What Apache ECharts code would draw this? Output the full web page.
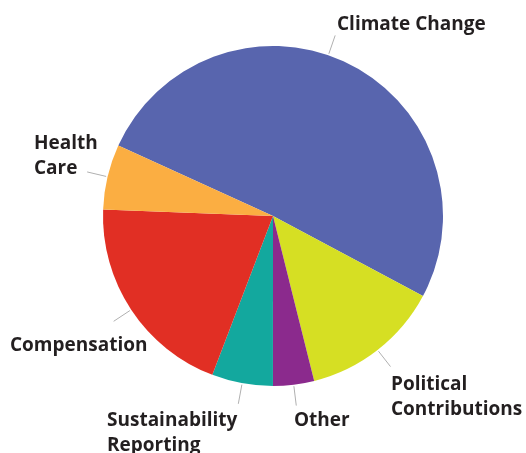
<!DOCTYPE html>
<html>
<head>
<meta charset="utf-8">
<script src="https://cdn.jsdelivr.net/npm/echarts@6/dist/echarts.min.js"></script>
<style>
html,body{margin:0;padding:0;background:#fff;}
#chart{width:526px;height:453px;}
</style>
</head>
<body>
<div id="chart"></div>
<script>
// ---- data ----
var categories = ['Climate Change', 'Political Contributions', 'Other', 'Sustainability Reporting', 'Compensation', 'Health Care'];
var shares = [51.0, 13.3, 3.9, 5.8, 19.8, 6.2];
var labelTexts = ['Climate Change', 'Political\nContributions', 'Other', 'Sustainability\nReporting', 'Compensation', 'Health\nCare'];
var colors = ['#5865ae', '#d6df23', '#8b2a8d', '#13a89e', '#e12f24', '#fbae42'];

// ---- layout (label placement only) ----
var CX = 273, CY = 216, R = 170;
var labelPos = [
  {x: 337, y: 12},
  {x: 391, y: 372},
  {x: 294, y: 408},
  {x: 107, y: 408},
  {x: 10,  y: 333},
  {x: 34,  y: 131}
];
var leaderAngleOverride = {0: 71};

var chart = echarts.init(document.getElementById('chart'), null, {renderer: 'canvas'});
var data = categories.map(function (c, i) {
  return {name: c, value: shares[i], itemStyle: {color: colors[i]}};
});

chart.setOption({
  animation: false,
  series: [{
    type: 'pie',
    center: [CX, CY],
    radius: [0, R],
    startAngle: 155.5,
    clockwise: true,
    avoidLabelOverlap: false,
    data: data,
    itemStyle: {borderWidth: 0},
    emphasis: {disabled: true},
    label: {
      show: true,
      position: 'outside',
      formatter: function (p) { return labelTexts[p.dataIndex]; },
      fontFamily: '"Open Sans", "Noto Sans", sans-serif',
      fontWeight: 'bold',
      fontSize: 19,
      lineHeight: 25,
      color: '#231f20'
    },
    labelLine: {
      show: true,
      length: 20,
      length2: 0,
      lineStyle: {color: '#b0b0b0', width: 1}
    },
    labelLayout: function (params) {
      var i = params.dataIndex;
      var pts = params.labelLinePoints;
      var a, b;
      if (leaderAngleOverride[i] != null) {
        var ang = leaderAngleOverride[i] * Math.PI / 180;
        a = [CX + (R + 1.5) * Math.cos(ang), CY - (R + 1.5) * Math.sin(ang)];
        b = [CX + (R + 21) * Math.cos(ang), CY - (R + 21) * Math.sin(ang)];
      } else {
        var dx = pts[1][0] - pts[0][0], dy = pts[1][1] - pts[0][1];
        var len = Math.sqrt(dx * dx + dy * dy) || 1;
        var ux = dx / len, uy = dy / len;
        a = [pts[0][0] + ux * 1.5, pts[0][1] + uy * 1.5];
        b = [pts[0][0] + ux * 21, pts[0][1] + uy * 21];
      }
      return {
        x: labelPos[i].x,
        y: labelPos[i].y,
        align: 'left',
        verticalAlign: 'top',
        labelLinePoints: [a, b]
      };
    }
  }]
});
</script>
</body>
</html>
